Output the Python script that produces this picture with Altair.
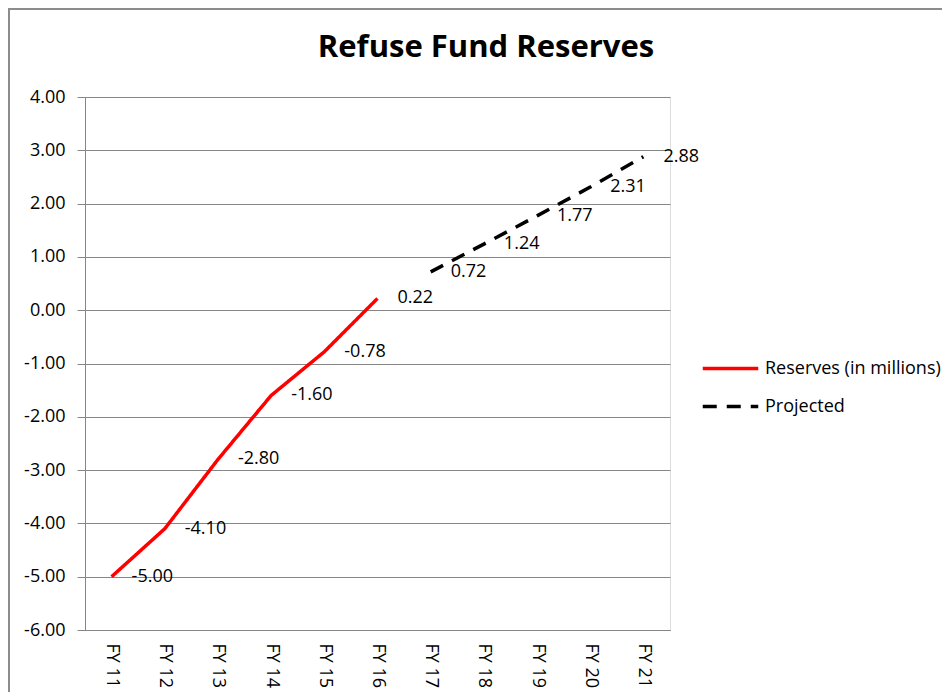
import altair as alt
import pandas as pd

categories = ["FY 11", "FY 12", "FY 13", "FY 14", "FY 15", "FY 16",
              "FY 17", "FY 18", "FY 19", "FY 20", "FY 21"]
reserves_years = ["FY 11", "FY 12", "FY 13", "FY 14", "FY 15", "FY 16"]
reserves_values = [-5.00, -4.10, -2.80, -1.60, -0.78, 0.22]
projected_years = ["FY 17", "FY 18", "FY 19", "FY 20", "FY 21"]
projected_values = [0.72, 1.24, 1.77, 2.31, 2.88]
series_names = ["Reserves (in millions)", "Projected"]
y_ticks = [-6, -5, -4, -3, -2, -1, 0, 1, 2, 3, 4]
title_text = "Refuse Fund Reserves"

rows = [{"year": y, "value": v, "series": series_names[0]} for y, v in zip(reserves_years, reserves_values)]
rows += [{"year": y, "value": v, "series": series_names[1]} for y, v in zip(projected_years, projected_values)]
df = pd.DataFrame(rows)

FONT = "Open Sans"
GRID = "#868686"

x_enc = alt.X("year:N", sort=categories, scale=alt.Scale(domain=categories, padding=0.5),
              axis=alt.Axis(title=None, labelAngle=90, ticks=False, grid=False,
                            domainColor=GRID, labelFontSize=18, labelFont=FONT,
                            labelColor="#000000", labelPadding=13))
y_enc = alt.Y("value:Q", scale=alt.Scale(domain=[-6, 4], nice=False, zero=False),
              axis=alt.Axis(title=None, values=y_ticks, format=".2f", grid=True,
                            gridColor=GRID, domainColor=GRID, tickColor=GRID, tickSize=8,
                            labelFontSize=18, labelFont=FONT, labelColor="#000000",
                            labelPadding=12))

legend_cfg = dict(title=None, orient="none", legendX=625, legendY=251,
                  symbolType="M-1.5,0H1.5", symbolSize=1369,
                  symbolStrokeWidth=3.5, labelFontSize=18, labelFont=FONT,
                  labelColor="#000000", labelOffset=14, rowPadding=8,
                  padding=0, labelLimit=400)

base = alt.Chart(df)

lines = base.mark_line(strokeWidth=3.5, strokeJoin="round").encode(
    x=x_enc,
    y=y_enc,
    color=alt.Color("series:N", scale=alt.Scale(domain=series_names, range=["#ff0000", "#000000"]),
                    legend=alt.Legend(**legend_cfg)),
    strokeDash=alt.StrokeDash("series:N", scale=alt.Scale(domain=series_names, range=[[1, 0], [14, 10]]),
                              legend=alt.Legend(**legend_cfg)),
    detail="series:N",
)

labels = base.mark_text(align="left", baseline="middle", dx=20, fontSize=18, font=FONT,
                        color="#000000").encode(
    x=alt.X("year:N", sort=categories),
    y="value:Q",
    text=alt.Text("value:Q", format=".2f"),
)

one_row = pd.DataFrame({"t": [title_text]})
title_mark = alt.Chart(one_row).mark_text(
    align="center", baseline="alphabetic", fontSize=31, font=FONT, fontWeight="bold",
    color="#000000").encode(x=alt.value(401), y=alt.value(-40), text="t:N")

top_border = alt.Chart(one_row).mark_rule(color="#8c8c8c", strokeWidth=2).encode(
    x=alt.value(-77), x2=alt.value(880), y=alt.value(-88))
left_border = alt.Chart(one_row).mark_rule(color="#8c8c8c", strokeWidth=2).encode(
    x=alt.value(-76), y=alt.value(-89), y2=alt.value(620))

chart = alt.layer(lines, labels, title_mark, top_border, left_border).properties(
    width=585, height=533,
    autosize=alt.AutoSizeParams(type="none"),
    padding={"left": 77, "top": 89, "right": 272, "bottom": 62},
).configure_view(stroke=None).configure(
    locale={"number": {"decimal": ".", "thousands": ",", "grouping": [3],
                       "currency": ["$", ""], "minus": "-"}}
)

chart.save("out.html", embed_options={"renderer": "svg", "actions": False})
